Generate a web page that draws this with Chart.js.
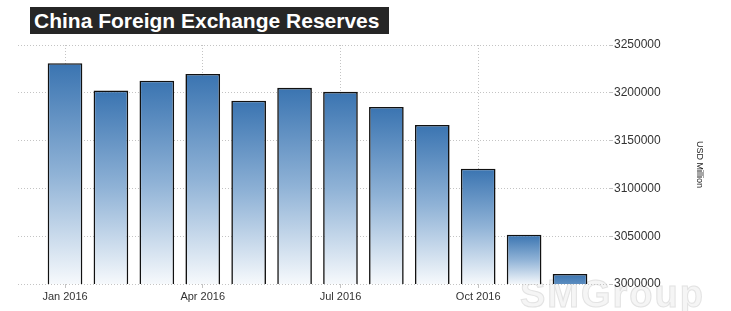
<!DOCTYPE html>
<html>
<head>
<meta charset="utf-8">
<script src="https://cdn.jsdelivr.net/npm/chart.js@4.4.0/dist/chart.umd.min.js"></script>
<style>
  html, body { margin: 0; padding: 0; background: #fff; }
  #wrap { position: relative; width: 731px; height: 311px; }
  #title {
    position: absolute; left: 30px; top: 7px; height: 27px; width: 355px;
    padding-left: 4px; background: #262626; color: #fff;
    font: bold 21px "Liberation Sans", Arial, sans-serif; line-height: 27px;
    white-space: nowrap; z-index: 2;
  }
</style>
</head>
<body>
<div id="wrap">
  <div id="title">China Foreign Exchange Reserves</div>
  <canvas id="chartContainer" width="731" height="311"></canvas>
</div>
<script>
// data (USD million)
const months = ['Jan 2016', 'Feb 2016', 'Mar 2016', 'Apr 2016', 'May 2016', 'Jun 2016',
                'Jul 2016', 'Aug 2016', 'Sep 2016', 'Oct 2016', 'Nov 2016', 'Dec 2016'];
const reserves = [3230890, 3202320, 3212580, 3219680, 3191740, 3205160,
                  3201060, 3185170, 3166380, 3120660, 3051600, 3010520];
const tickMonths = [0, 3, 6, 9];   // labelled months
const yTicks = [3000000, 3050000, 3100000, 3150000, 3200000, 3250000];

// blue -> white gradient, one per bar
function barFill(c) {
  const chart = c.chart;
  if (!chart.chartArea || !c.raw) return '#3c76b2';
  const ys = chart.scales.y;
  const top = ys.getPixelForValue(c.raw.y);
  const base = ys.getPixelForValue(ys.min);
  const g = chart.ctx.createLinearGradient(0, top, 0, Math.max(base, top + 50));
  g.addColorStop(0, '#3a74b1');
  g.addColorStop(0.5, '#8fb2d6');
  g.addColorStop(1, '#f6f9fc');
  return g;
}

// faint watermark in the corner
const watermark = {
  id: 'watermark',
  beforeDraw(chart) {
    const ctx = chart.ctx;
    ctx.save();
    ctx.font = 'bold 38px "Liberation Sans", Arial, sans-serif';
    ctx.letterSpacing = '2px';
    ctx.fillStyle = '#f5f5f5';
    ctx.strokeStyle = '#e3e3e3';
    ctx.lineWidth = 1;
    ctx.fillText('SMGroup', 520, 307);
    ctx.strokeText('SMGroup', 520, 307);
    ctx.restore();
  }
};

const ctx = document.getElementById('chartContainer');

new Chart(ctx, {
  type: 'bar',
  data: {
    datasets: [{
      data: reserves.map((v, i) => ({ x: i, y: v })),
      backgroundColor: barFill,
      borderColor: '#111',
      borderWidth: 1.6,
      borderSkipped: false,
      categoryPercentage: 1,
      barPercentage: 0.755
    }]
  },
  options: {
    responsive: false,
    animation: false,
    layout: { padding: { left: 18, right: 0, top: 45, bottom: 0 } },
    plugins: { legend: { display: false }, tooltip: { enabled: false } },
    scales: {
      x: {
        type: 'linear',
        offset: false,
        min: -1.024,
        max: 11.871,
        afterBuildTicks: s => { s.ticks = tickMonths.map(v => ({ value: v })); },
        afterFit: s => { s.height = 27; },
        ticks: {
          callback: v => months[v],
          color: '#333',
          padding: 2,
          maxRotation: 0,
          autoSkip: false,
          font: { family: '"Liberation Sans", Arial, sans-serif', size: 11 }
        },
        grid: { offset: false, color: '#c4c4c4', tickLength: 4, tickColor: '#c4c4c4' },
        border: { display: false, dash: [1, 2] }
      },
      y: {
        position: 'right',
        min: 3000000,
        max: 3250000,
        afterBuildTicks: s => { s.ticks = yTicks.map(v => ({ value: v })); },
        afterFit: s => { s.width = 121; },
        ticks: {
          callback: v => String(v),
          color: '#333',
          padding: 1,
          font: { family: '"Liberation Sans", Arial, sans-serif', size: 12 }
        },
        grid: { color: '#c4c4c4', tickLength: 3, tickColor: '#c4c4c4' },
        border: { display: false, dash: [1, 2] },
        title: {
          display: true,
          text: 'USD Million',
          color: '#222',
          padding: { top: 26, bottom: 0 },
          font: { family: '"Liberation Sans", Arial, sans-serif', size: 9 }
        }
      }
    }
  },
  plugins: [watermark]
});
</script>
</body>
</html>
